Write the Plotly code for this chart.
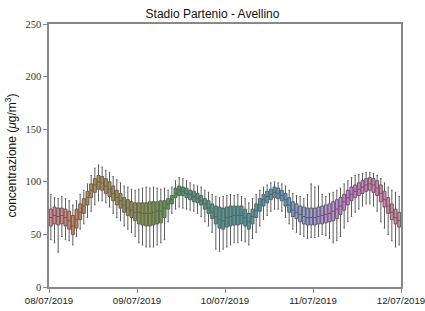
import math
import colorsys
import plotly.graph_objects as go

# ---------------- data (hourly, 08/07/2019 00:00 -> 11/07/2019 23:00) ----------------
hours = list(range(96))
q1 = [58, 60, 59, 60, 58, 55, 50, 56, 64, 70, 78, 85, 90, 93, 92, 89, 86, 82, 78, 75, 71, 68, 66, 63,
      60, 59, 58, 58, 59, 60, 61, 66, 74, 79, 85, 87, 87, 85, 83, 81, 80, 78, 74, 70, 65, 60, 56, 55,
      57, 58, 59, 59, 60, 58, 55, 60, 66, 72, 77, 80, 83, 85, 84, 82, 77, 71, 67, 65, 62, 60, 59, 59,
      59, 60, 60, 61, 62, 63, 65, 69, 73, 78, 82, 85, 87, 89, 91, 92, 90, 87, 81, 76, 70, 64, 60, 57]
median = [66, 68, 67, 68, 66, 63, 58, 64, 71, 77, 85, 92, 97, 100, 99, 96, 93, 89, 85, 82, 78, 75, 73, 71,
          71, 70, 70, 70, 71, 72, 72, 75, 79, 83, 89, 92, 91, 89, 88, 86, 84, 82, 79, 75, 71, 67, 64, 63,
          66, 67, 68, 68, 68, 66, 62, 67, 73, 78, 83, 86, 88, 90, 89, 87, 83, 78, 73, 71, 69, 67, 66, 66,
          66, 67, 68, 69, 70, 72, 74, 77, 81, 85, 88, 91, 93, 95, 97, 98, 97, 94, 89, 83, 77, 71, 66, 63]
q3 = [74, 76, 75, 75, 74, 72, 68, 74, 79, 84, 91, 98, 103, 106, 105, 103, 100, 96, 92, 89, 85, 83, 81, 80,
      80, 80, 80, 81, 81, 81, 82, 82, 84, 87, 94, 96, 95, 94, 92, 91, 89, 87, 84, 82, 79, 77, 76, 75,
      76, 77, 77, 77, 77, 74, 70, 74, 79, 84, 88, 91, 93, 95, 94, 92, 89, 85, 81, 79, 77, 76, 75, 75,
      75, 76, 77, 78, 79, 81, 83, 85, 88, 92, 95, 97, 99, 101, 103, 104, 103, 101, 97, 91, 85, 79, 74, 71]
lo = [45, 42, 33, 48, 45, 44, 40, 48, 55, 60, 66, 72, 78, 82, 82, 80, 76, 70, 66, 63, 58, 55, 52, 48,
      42, 40, 38, 38, 38, 40, 42, 45, 62, 70, 74, 76, 75, 74, 73, 72, 70, 67, 62, 58, 52, 36, 34, 36,
      38, 40, 42, 42, 44, 43, 40, 46, 52, 58, 64, 68, 72, 74, 74, 72, 66, 60, 55, 52, 50, 48, 46, 47,
      47, 48, 50, 49, 46, 42, 44, 48, 56, 62, 67, 71, 74, 77, 79, 79, 77, 72, 62, 56, 50, 44, 38, 40]
hi = [88, 85, 84, 86, 84, 82, 78, 82, 88, 92, 98, 106, 113, 116, 114, 111, 109, 105, 102, 99, 96, 95, 93, 92,
      93, 94, 95, 94, 95, 94, 93, 94, 92, 95, 101, 104, 103, 101, 99, 97, 96, 95, 92, 90, 88, 86, 85, 86,
      87, 88, 87, 88, 86, 84, 80, 84, 88, 92, 95, 97, 99, 100, 99, 98, 96, 92, 89, 87, 86, 84, 88, 98,
      95, 96, 88, 86, 89, 90, 92, 94, 98, 101, 104, 106, 107, 108, 109, 109, 108, 106, 103, 99, 95, 92, 90, 86]

tick_pos = [0, 24, 48, 72, 96]
tick_text = ["08/07/2019", "09/07/2019", "10/07/2019", "11/07/2019", "12/07/2019"]
y_ticks = [0, 50, 100, 150, 200, 250]

# ---------------- husl palette (seaborn style) ----------------
M = [[3.240969941904521, -1.537383177570093, -0.498610760293],
     [-0.96924363628087, 1.87596750150772, 0.041555057407175],
     [0.055630079696993, -0.20397695888897, 1.056971514242878]]
REF_U, REF_V = 0.19783000664283, 0.46831999493879
KAPPA, EPS = 903.2962962, 0.0088564516


def bounds(L):
    out = []
    sub1 = (L + 16) ** 3 / 1560896
    sub2 = sub1 if sub1 > EPS else L / KAPPA
    for m1, m2, m3 in M:
        for t in (0, 1):
            top1 = (284517 * m1 - 94839 * m3) * sub2
            top2 = (838422 * m3 + 769860 * m2 + 731718 * m1) * L * sub2 - 769860 * t * L
            bottom = (632260 * m3 - 126452 * m2) * sub2 + 126452 * t
            out.append((top1 / bottom, top2 / bottom))
    return out


def max_chroma(L, H):
    hr = math.radians(H)
    best = float("inf")
    for slope, inter in bounds(L):
        d = math.sin(hr) - slope * math.cos(hr)
        if d == 0:
            continue
        length = inter / d
        if length >= 0:
            best = min(best, length)
    return best


def husl_to_rgb(H, S, L):
    C = max_chroma(L, H) / 100 * S
    U = C * math.cos(math.radians(H))
    V = C * math.sin(math.radians(H))
    vu = U / (13 * L) + REF_U
    vv = V / (13 * L) + REF_V
    Y = L / KAPPA if L <= 8 else ((L + 16) / 116) ** 3
    X = -(9 * Y * vu) / ((vu - 4) * vv - vu * vv)
    Z = (9 * Y - 15 * vv * Y - vv * X) / (3 * vv)
    rgb = []
    for row in M:
        c = row[0] * X + row[1] * Y + row[2] * Z
        c = 12.92 * c if c <= 0.0031308 else 1.055 * c ** (1 / 2.4) - 0.055
        rgb.append(min(max(c, 0), 1))
    return rgb


def palette(n, h=0.01, s=0.9, l=0.65, desat=0.75):
    cols = []
    for i in range(n):
        hue = ((i / n + h) % 1) * 359
        r, g, b = husl_to_rgb(hue, s * 99, l * 99)
        hh, ll, ss = colorsys.rgb_to_hls(r, g, b)
        r, g, b = colorsys.hls_to_rgb(hh, ll, ss * desat)
        cols.append("rgb(%d,%d,%d)" % (round(r * 255), round(g * 255), round(b * 255)))
    return cols


colors = palette(len(hours))

fig = go.Figure()
for i, h in enumerate(hours):
    fig.add_trace(go.Box(
        x=[h + 0.5], q1=[q1[i]], median=[median[i]], q3=[q3[i]],
        lowerfence=[lo[i]], upperfence=[hi[i]],
        fillcolor=colors[i], line=dict(color="#5e5e5e", width=1),
        width=0.8, whiskerwidth=0.5, boxpoints=False, showlegend=False,
        hoverinfo="skip",
    ))

fig.update_layout(
    width=425, height=311,
    margin=dict(l=49, r=24, t=24, b=24),
    paper_bgcolor="white", plot_bgcolor="white",
    title=dict(text="Stadio Partenio - Avellino", x=0.5, xanchor="center", y=0.955, yanchor="middle",
               font=dict(family="Liberation Sans, Arial", size=12, color="#111")),
    font=dict(family="Liberation Sans, Arial", size=10, color="#222"),
)
fig.update_xaxes(
    range=[-0.0001, 96.0001], tickvals=tick_pos, ticktext=tick_text, showgrid=False, zeroline=False,
    showline=True, linecolor="#888", linewidth=1.5, mirror=True, automargin=False,
    ticklabeloverflow="allow",
    ticks="outside", ticklen=4, tickcolor="#888", tickfont=dict(size=9.7, color="#222"),
)
fig.update_yaxes(
    range=[0, 250], tickvals=y_ticks, showgrid=False, zeroline=False,
    showline=True, linecolor="#888", linewidth=1.5, mirror=True, automargin=False,
    ticks="outside", ticklen=4, tickcolor="#888",
    tickfont=dict(family="Liberation Serif, Times New Roman", size=10.5, color="#333"),
    title=dict(text="concentrazione (<i>μ</i>g/m<sup>3</sup>)", standoff=6,
               font=dict(family="Liberation Sans, Arial", size=12, color="#111")),
)

fig.write_html(
    "out.html",
    config={"displayModeBar": False},
    post_script="document.body.style.margin='0';document.body.style.overflow='hidden';",
)
